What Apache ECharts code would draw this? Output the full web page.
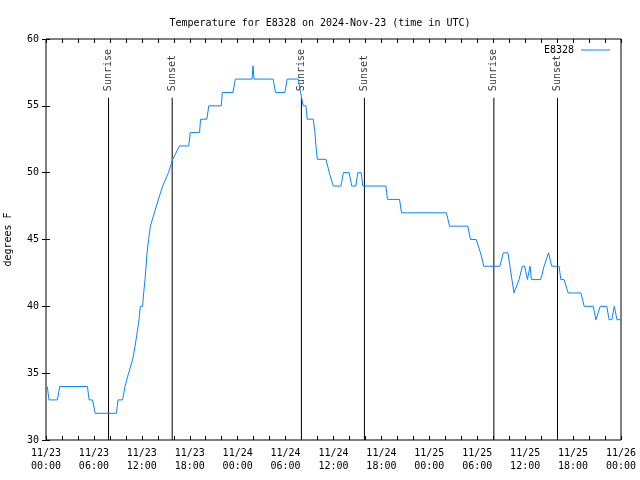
<!DOCTYPE html>
<html>
<head>
<meta charset="utf-8">
<script src="https://cdn.jsdelivr.net/npm/echarts@6/dist/echarts.min.js"></script>
<style>html,body{margin:0;padding:0;background:#fff;}#c{width:640px;height:480px;}</style>
</head>
<body>
<div id="c"></div>
<script>
// Hours since 2024-11-23 00:00 UTC
const tempHours = [0.16,0.38,1.42,1.72,5.19,5.40,5.82,6.16,8.83,9.01,9.59,9.89,10.34,10.84,11.15,11.40,11.65,11.81,12.10,12.23,12.40,12.53,12.65,12.85,13.07,13.57,14.07,14.61,15.33,15.87,16.71,17.88,18.06,19.23,19.35,20.14,20.39,21.95,22.08,23.41,23.71,25.80,25.92,26.05,28.44,28.74,29.91,30.20,31.58,31.88,32.21,32.55,32.71,33.46,33.68,33.80,33.97,35.06,35.47,35.98,36.94,37.23,37.95,38.29,38.79,39.04,39.46,39.67,42.56,42.76,44.27,44.52,50.14,50.52,52.82,53.15,53.87,54.41,54.82,56.84,57.26,57.84,58.60,59.23,59.65,59.94,60.28,60.61,60.78,61.95,62.37,62.92,63.33,64.25,64.46,64.88,65.38,66.98,67.39,68.52,68.86,69.40,70.22,70.51,70.85,71.16,71.50,71.88];
const tempValues = [34,33,33,34,34,33,33,32,32,33,33,34,35,36,37,38,39,40,40,41,42,43,44,45,46,47,48,49,50,51,52,52,53,53,54,54,55,55,56,56,57,57,58,57,57,56,56,57,57,56,55,55,54,54,53,52,51,51,50,49,49,50,50,49,49,50,50,49,49,48,48,47,47,46,46,45,45,44,43,43,44,44,41,42,43,43,42,43,42,42,43,44,43,43,42,42,41,41,40,40,39,40,40,39,39,40,39,39];
const sunHours = [7.83, 15.80, 31.98, 39.87, 56.08, 64.05];
const sunLabels = ['Sunrise','Sunset','Sunrise','Sunset','Sunrise','Sunset'];
const yTicks = [30,35,40,45,50,55,60];

const FONT = 'DejaVu Sans Mono';
const chart = echarts.init(document.getElementById('c'), null, {renderer:'canvas'});

function xLabel(v){
  if (v % 6 !== 0) return '';
  const day = 23 + Math.floor(v/24);
  const hr = v % 24;
  return '11/' + day + '\n' + (hr<10?'0':'') + hr + ':00';
}

const series = [{
  name: 'E8328',
  type: 'line',
  data: tempHours.map((h,i)=>[h,tempValues[i]]),
  showSymbol: false,
  symbol: 'none',
  lineStyle: {color:'#0a84ff', width:1},
  itemStyle: {color:'#0a84ff'},
  animation: false,
  z: 3
}];
sunHours.forEach((h,i)=>{
  series.push({
    type:'line',
    data:[[h,30],[h,55.6]],
    symbol:'none',
    lineStyle:{color:'#000',width:1},
    silent:true,
    animation:false,
    z:2
  });
});
series.push({
  type:'scatter',
  data: sunHours.map((h,i)=>({value:[h,56.1], name:sunLabels[i]})),
  symbolSize:0,
  silent:true,
  animation:false,
  label:{
    show:true,
    position:'inside',
    rotate:90,
    align:'left',
    verticalAlign:'middle',
    formatter: p=>p.name,
    fontFamily:FONT,
    fontSize:10,
    color:'#000'
  }
});

chart.setOption({
  backgroundColor:'#fff',
  animation:false,
  title:{
    text:'Temperature for E8328 on 2024-Nov-23 (time in UTC)',
    left:'center',
    top:13,
    textStyle:{fontFamily:FONT,fontSize:10,fontWeight:'normal',color:'#000'}
  },
  legend:{
    data:['E8328'],
    right:25,
    top:40,
    align:'right',
    icon:'rect',
    itemWidth:29,
    itemHeight:1,
    itemGap:0,
    textStyle:{fontFamily:FONT,fontSize:10,color:'#000',padding:[0,2,0,0]}
  },
  grid:{left:46,right:19,top:39,bottom:40,containLabel:false,outerBoundsMode:'none',show:true,borderColor:'#000',borderWidth:1,backgroundColor:'transparent'},
  xAxis:[{
    type:'value',min:0,max:72,interval:2,
    axisLine:{show:false},
    axisTick:{show:true,inside:true,length:4,lineStyle:{color:'#000'}},
    splitLine:{show:false},
    axisLabel:{formatter:xLabel,fontFamily:FONT,fontSize:10,color:'#000',lineHeight:13,margin:7,showMinLabel:true,showMaxLabel:true,hideOverlap:false}
  },{
    type:'value',min:0,max:72,interval:2,position:'top',
    axisLine:{show:false},
    axisTick:{show:true,inside:true,length:4,lineStyle:{color:'#000'}},
    splitLine:{show:false},
    axisLabel:{show:false}
  }],
  yAxis:[{
    type:'value',min:yTicks[0],max:yTicks[yTicks.length-1],interval:5,
    name:'degrees F',nameLocation:'middle',nameRotate:90,nameGap:33,
    nameTextStyle:{fontFamily:FONT,fontSize:10,color:'#000'},
    axisLine:{show:false},
    axisTick:{show:true,inside:true,length:4,lineStyle:{color:'#000'}},
    splitLine:{show:false},
    axisLabel:{fontFamily:FONT,fontSize:10,color:'#000',margin:7}
  },{
    type:'value',min:yTicks[0],max:yTicks[yTicks.length-1],interval:5,position:'right',
    axisLine:{show:false},
    axisTick:{show:true,inside:true,length:4,lineStyle:{color:'#000'}},
    splitLine:{show:false},
    axisLabel:{show:false}
  }],
  series:series
});
</script>
</body>
</html>
